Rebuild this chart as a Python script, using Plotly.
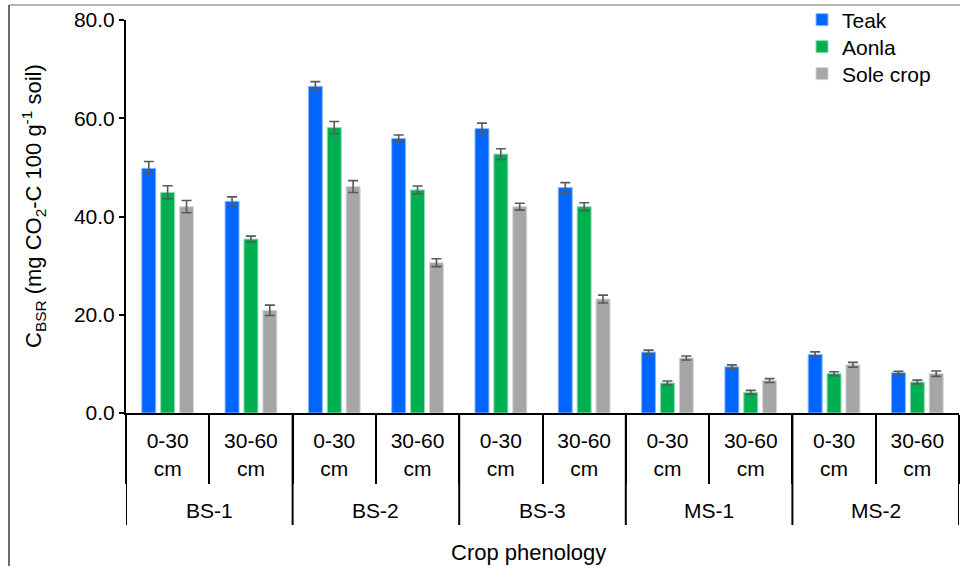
import plotly.graph_objects as go

# Soil basal respiration by crop phenology stage and soil depth
stages = ["BS-1", "BS-2", "BS-3", "MS-1", "MS-2"]
depths = ["0-30<br>cm", "30-60<br>cm"]

teak = [49.8, 43.1, 66.5, 55.9, 57.9, 45.9, 12.4, 9.4, 11.9, 8.2]
teak_err = [1.4, 0.9, 0.95, 0.7, 1.1, 1.0, 0.4, 0.4, 0.55, 0.3]
aonla = [44.9, 35.4, 58.1, 45.4, 52.7, 42.0, 6.1, 4.2, 8.0, 6.3]
aonla_err = [1.35, 0.6, 1.25, 0.8, 1.1, 0.8, 0.4, 0.4, 0.4, 0.4]
sole = [42.0, 20.9, 46.1, 30.6, 42.0, 23.2, 11.2, 6.6, 9.8, 8.0]
sole_err = [1.25, 1.05, 1.2, 0.8, 0.7, 0.8, 0.4, 0.4, 0.5, 0.55]

series = [
    ("Teak", teak, teak_err, "#0066FF", "#8DB8FF"),
    ("Aonla", aonla, aonla_err, "#00B050", "#8FDDB0"),
    ("Sole crop", sole, sole_err, "#A6A6A6", "#D6D6D6"),
]

W, H = 960, 566
ML, MR, MT, MB = 126, 1, 20, 153
PW, PH = W - ML - MR, H - MT - MB

def py(pixel_y):
    """Convert a page pixel row to paper y."""
    return (H - MB - pixel_y) / PH

def px(pixel_x):
    return (pixel_x - ML) / PW

n = len(stages) * len(depths)
xpos = list(range(n))
ticktext = [depths[i % 2] for i in range(n)]
FONT = "Liberation Sans, Arial, sans-serif"

# one legend box per series so the rows sit at a fixed pitch
legend_ids = ["legend", "legend2", "legend3"]
legend_rows = [20, 47, 74]

fig = go.Figure()
for (name, vals, errs, color, edge), lid in zip(series, legend_ids):
    fig.add_trace(go.Bar(
        x=xpos, y=vals, name=name, legend=lid,
        marker=dict(color=color, line=dict(color=edge, width=1)),
        error_y=dict(type="data", array=errs, visible=True,
                     color="#595959", thickness=1.6, width=5),
    ))

shapes = []
# stage dividers below the axis
for b in range(0, n + 1, 2):
    shapes.append(dict(type="line", xref="x", yref="paper",
                       x0=b - 0.5, x1=b - 0.5, y0=0, y1=py(525),
                       line=dict(color="#000", width=2)))
# outer frame lines (top and left)
shapes.append(dict(type="line", xref="paper", yref="paper",
                   x0=px(9), x1=px(960), y0=py(5), y1=py(5),
                   line=dict(color="#6e6e6e", width=1.2)))
shapes.append(dict(type="line", xref="paper", yref="paper",
                   x0=px(9), x1=px(9), y0=py(5), y1=py(566),
                   line=dict(color="#3a3a3a", width=1.5)))

annotations = []
for i, s in enumerate(stages):
    annotations.append(dict(x=2 * i + 0.5, y=py(511), xref="x", yref="paper",
                            text=s, showarrow=False, yanchor="middle",
                            font=dict(size=21, color="#000", family=FONT)))
annotations.append(dict(x=px(528), y=py(552), xref="paper", yref="paper",
                        text="Crop phenology", showarrow=False, yanchor="middle",
                        font=dict(size=22, color="#000", family=FONT)))
# vertical axis title
annotations.append(dict(x=px(33), y=py(206), xref="paper", yref="paper",
                        text="C<sub>BSR</sub> (mg CO<sub>2</sub>-C 100 g<sup>-1</sup> soil)",
                        textangle=-90, showarrow=False,
                        xanchor="center", yanchor="middle",
                        font=dict(size=22, color="#000", family=FONT)))

legend_common = dict(xanchor="left", yanchor="middle", bgcolor="rgba(0,0,0,0)",
                     font=dict(size=21, family=FONT, color="#000"),
                     itemclick=False, itemwidth=30, borderwidth=0)

fig.update_layout(
    width=W, height=H,
    margin=dict(l=ML, r=MR, t=MT, b=MB, autoexpand=False),
    paper_bgcolor="white", plot_bgcolor="white",
    barmode="group", bargap=0.32, bargroupgap=0.26,
    font=dict(family=FONT, size=20, color="#000"),
    showlegend=True,
    shapes=shapes, annotations=annotations,
)
for lid, row in zip(legend_ids, legend_rows):
    fig.update_layout({lid: dict(x=px(802), y=py(row), **legend_common)})

fig.update_xaxes(
    range=[-0.5, n - 0.5], tickmode="array", tickvals=xpos, ticktext=ticktext,
    ticks="", showline=True, linecolor="#000", linewidth=2,
    showgrid=False, zeroline=False, ticklabelstandoff=8,
    tickfont=dict(size=21, family=FONT),
    minor=dict(tickmode="array", tickvals=[b - 0.5 for b in range(n + 1)],
               ticks="outside", ticklen=69, tickwidth=2, tickcolor="#000",
               showgrid=False),
)
fig.update_yaxes(
    range=[0, 80], dtick=20, tickformat=".1f",
    ticks="outside", ticklen=5, tickwidth=2, tickcolor="#000",
    showline=True, linecolor="#000", linewidth=2,
    showgrid=False, zeroline=False,
    tickfont=dict(size=21, family=FONT),
)

fig.write_html("out.html")
